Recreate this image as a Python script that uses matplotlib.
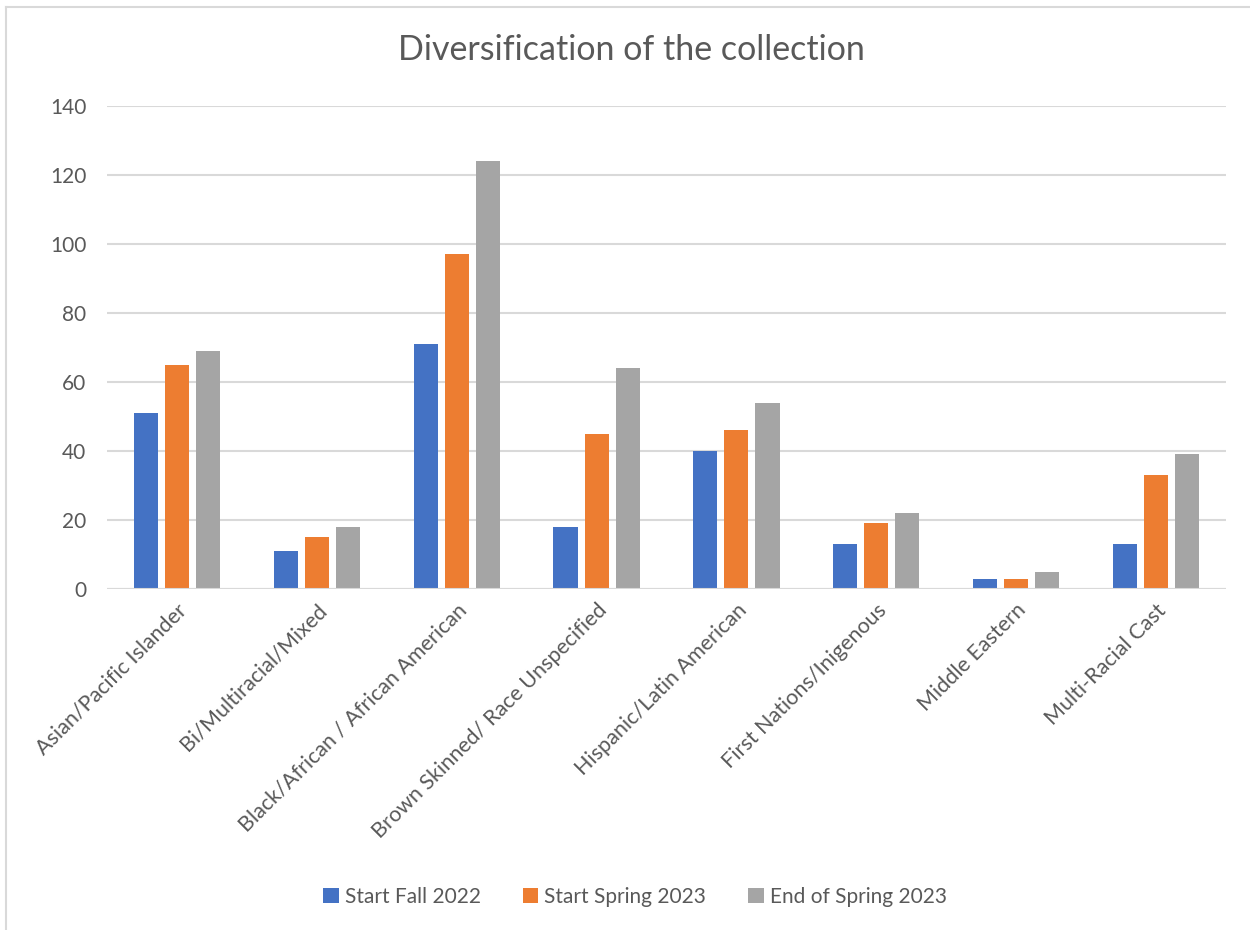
import numpy as np
import matplotlib
matplotlib.use("Agg")
import matplotlib.pyplot as plt
from matplotlib.lines import Line2D

categories = [
    "Asian/Pacific Islander",
    "Bi/Multiracial/Mixed",
    "Black/African / African American",
    "Brown Skinned/ Race Unspecified",
    "Hispanic/Latin American",
    "First Nations/Inigenous",
    "Middle Eastern",
    "Multi-Racial Cast",
]
series_names = ["Start Fall 2022", "Start Spring 2023", "End of Spring 2023"]
fall_2022 = [51, 11, 71, 18, 40, 13, 3, 13]
spring_2023 = [65, 15, 97, 45, 46, 19, 3, 33]
end_spring_2023 = [69, 18, 124, 64, 54, 22, 5, 39]
y_ticks = [0, 20, 40, 60, 80, 100, 120, 140]

colors = ["#4472C4", "#ED7D31", "#A5A5A5"]
text_color = "#595959"
grid_color = "#D9D9D9"

plt.rcParams["font.family"] = ["Lato", "DejaVu Sans"]

fig = plt.figure(figsize=(12.5, 9.3), dpi=100)
ax = fig.add_axes([107 / 1250, 1 - 589 / 930, (1226 - 107) / 1250, (589 - 106) / 930])

x = np.arange(len(categories))
width = 0.172
step = 0.222
all_series = [fall_2022, spring_2023, end_spring_2023]
for i, values in enumerate(all_series):
    ax.bar(x + (i - 1) * step, values, width, color=colors[i],
           label=series_names[i], zorder=3)

ax.set_xlim(-0.5, len(categories) - 0.5)
ax.set_ylim(0, 140)
ax.set_yticks(y_ticks)
ax.yaxis.grid(True, color=grid_color, linewidth=1.5, zorder=0)
ax.axhline(0, color=grid_color, linewidth=1.5, zorder=4)

for side in ["top", "right", "left", "bottom"]:
    ax.spines[side].set_visible(False)

ax.tick_params(axis="y", length=0, pad=15, labelsize=15, labelcolor=text_color)
ax.tick_params(axis="x", length=0, pad=8, labelsize=15.5, labelcolor=text_color)
ax.set_xticks(x)
ax.set_xticklabels(categories, rotation=45, ha="right", rotation_mode="anchor")

fig.text(0.505, 1 - 50 / 930, "Diversification of the collection",
         ha="center", va="center", fontsize=24.5, color=text_color)

fig.legend(loc="center", bbox_to_anchor=(0.508, 1 - 897 / 930), ncol=3,
           frameon=False, fontsize=15, labelcolor=text_color,
           handlelength=0.75, handleheight=0.75, handletextpad=0.3,
           columnspacing=2.0)

# chart frame (partially cropped in the original)
fig.add_artist(Line2D([6 / 1250, 6 / 1250], [0, 1 - 7 / 930],
                      transform=fig.transFigure, color=grid_color, linewidth=1.5))
fig.add_artist(Line2D([6 / 1250, 1], [1 - 7 / 930, 1 - 7 / 930],
                      transform=fig.transFigure, color=grid_color, linewidth=1.5))

fig.savefig("out.png", dpi=100, facecolor="white")
